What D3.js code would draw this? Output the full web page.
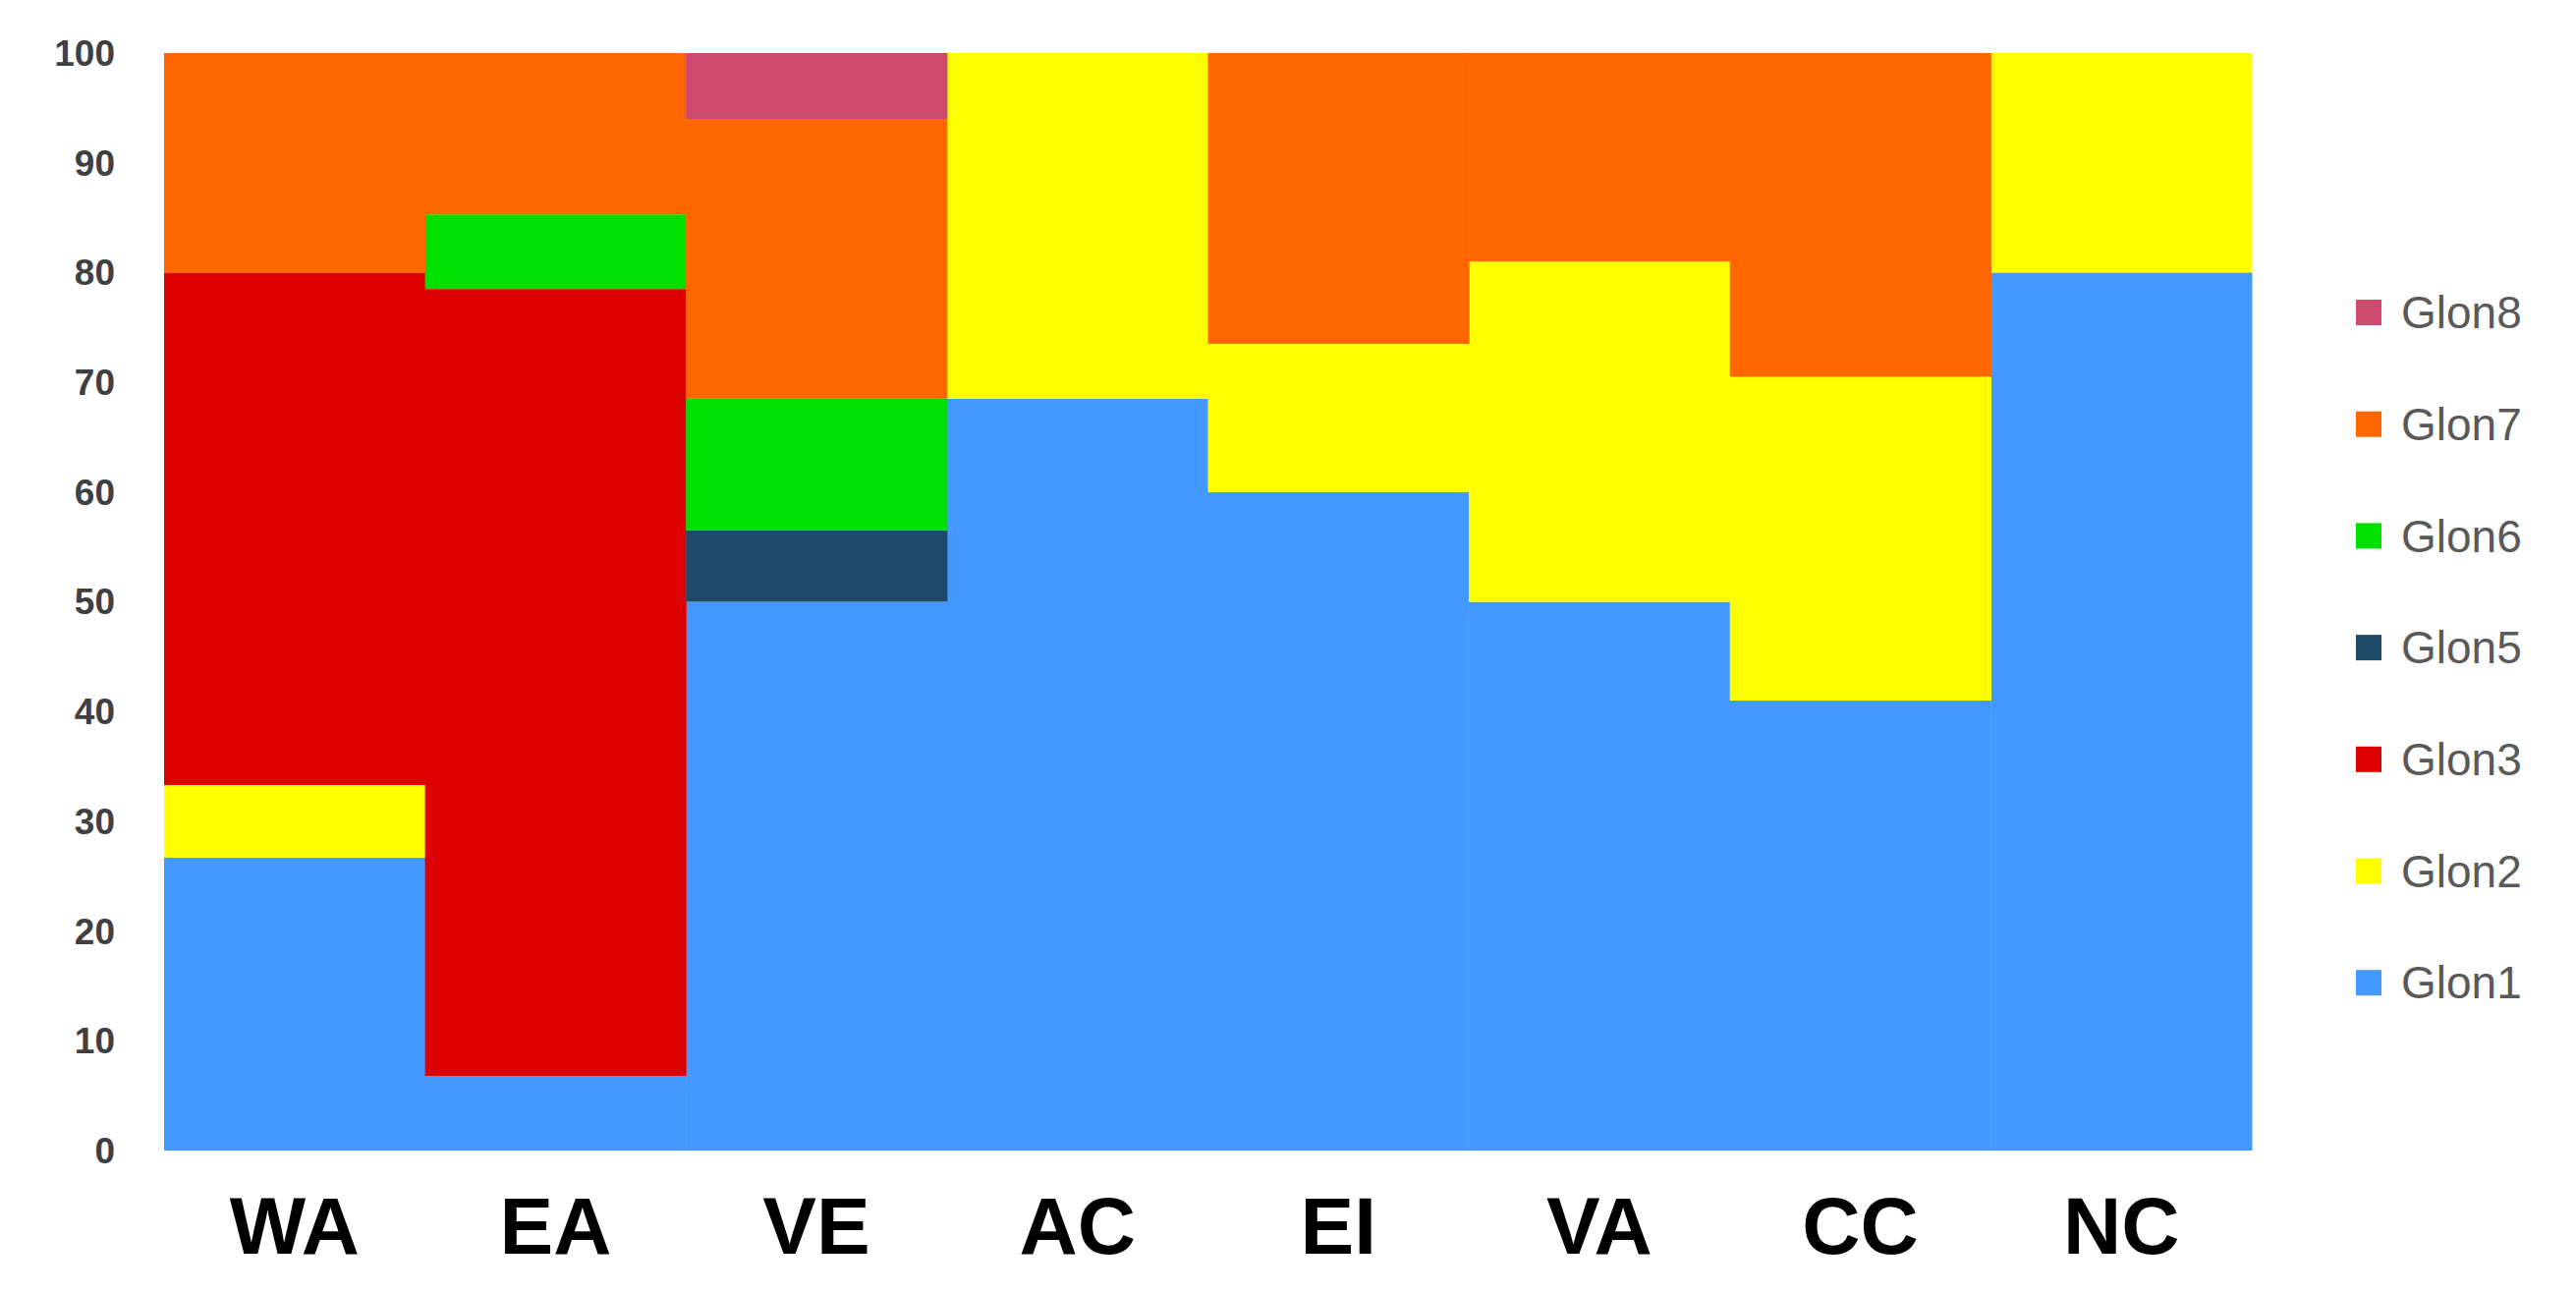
<!DOCTYPE html>
<html><head><meta charset="utf-8">
<script src="https://cdn.jsdelivr.net/npm/d3@7"></script>
<style>body{margin:0;background:#fff}</style>
</head><body>
<svg id="chart" width="2622" height="1317"></svg>
<script>
// Data
const sites = ["WA", "EA", "VE", "AC", "EI", "VA", "CC", "NC"];
const glons = ["Glon1", "Glon2", "Glon3", "Glon5", "Glon6", "Glon7", "Glon8"];
const colors = ["#4499ff", "#ffff00", "#dd0000", "#1f4a68", "#00e000", "#ff6600", "#cc4a6e"];
const glon1 = [26.7, 6.8, 50, 68.5, 60, 50, 41, 80];
const glon2 = [6.6, 0, 0, 31.5, 13.5, 31, 29.5, 20];
const glon3 = [46.7, 71.7, 0, 0, 0, 0, 0, 0];
const glon5 = [0, 0, 6.5, 0, 0, 0, 0, 0];
const glon6 = [0, 6.8, 12, 0, 0, 0, 0, 0];
const glon7 = [20, 14.7, 25.5, 0, 26.5, 19, 29.5, 0];
const glon8 = [0, 0, 6, 0, 0, 0, 0, 0];
const yTicks = [0, 10, 20, 30, 40, 50, 60, 70, 80, 90, 100];

const seriesVals = [glon1, glon2, glon3, glon5, glon6, glon7, glon8];
const rows = sites.map((s, i) => {
  const r = { site: s };
  glons.forEach((g, j) => (r[g] = seriesVals[j][i]));
  return r;
});

const svg = d3.select("#chart");
const x = d3.scaleBand().domain(sites).range([167, 2292]).padding(0);
const y = d3.scaleLinear().domain([0, 100]).range([1171, 54]);
const stack = d3.stack().keys(glons)(rows);

svg.append("g").selectAll("g").data(stack).join("g")
  .attr("fill", (d, i) => colors[i])
  .selectAll("rect").data(d => d).join("rect")
  .attr("x", d => x(d.data.site))
  .attr("width", x.bandwidth() + 0.5)
  .attr("y", d => y(d[1]))
  .attr("height", d => y(d[0]) - y(d[1]));

// Y axis labels
svg.append("g").selectAll("text").data(yTicks).join("text")
  .attr("x", 117).attr("y", d => y(d)).attr("dy", "0.35em")
  .attr("text-anchor", "end")
  .attr("font-family", "Liberation Sans, Arial, sans-serif")
  .attr("font-size", 37).attr("font-weight", "bold").attr("fill", "#404040")
  .text(d => d);

// X labels
svg.append("g").selectAll("text").data(sites).join("text")
  .attr("x", d => x(d) + x.bandwidth() / 2).attr("y", 1276)
  .attr("text-anchor", "middle")
  .attr("font-family", "Liberation Sans, Arial, sans-serif")
  .attr("font-size", 82).attr("font-weight", "bold").attr("fill", "#000")
  .text(d => d);

// Legend (reverse order)
const legend = glons.map((g, i) => ({ g, c: colors[i] })).reverse();
const lg = svg.append("g").selectAll("g").data(legend).join("g")
  .attr("transform", (d, i) => `translate(2398, ${318 + i * 113.7})`);
lg.append("rect").attr("x", 0).attr("y", -13).attr("width", 26).attr("height", 26).attr("fill", d => d.c);
lg.append("text").attr("x", 46).attr("dy", "0.35em")
  .attr("font-family", "Liberation Sans, Arial, sans-serif")
  .attr("font-size", 46).attr("fill", "#595959")
  .text(d => d.g);
</script>
</body></html>
